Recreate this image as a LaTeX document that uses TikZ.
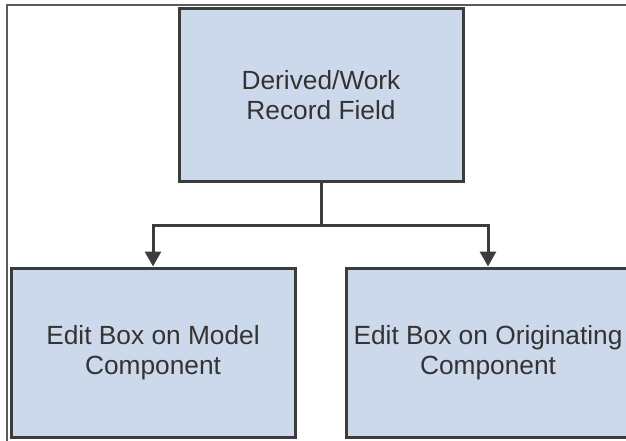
\documentclass[tikz,border=0pt]{standalone}
\usepackage{fontspec}
\setmainfont{Liberation Sans}
\usepackage{xcolor}
\definecolor{cFill}{HTML}{CCD9EB}
\definecolor{cLine}{HTML}{3C3C3C}
\definecolor{cText}{HTML}{333333}
\definecolor{cFrame}{HTML}{5A5A5A}
\usetikzlibrary{positioning,arrows.meta,calc}
\tikzset{
  node-box/.style={draw=cLine,line width=3pt,fill=cFill,text=cText,
    minimum width=284pt,inner sep=4pt,align=center,
    font=\fontsize{26.3}{30}\selectfont},
  arrow/.style={-{Triangle[length=15pt,width=16pt]},line width=3pt,draw=cLine},
  frame/.style={draw=cFrame,line width=2pt},
}

\begin{document}
\begin{tikzpicture}[x=1pt,y=-1pt]
  \useasboundingbox (0,0) rectangle (626,441);
  \clip (0,0) rectangle (626,441);
  \draw[frame] (7,460) -- (7,5) -- (640,5);
  \node[node-box,minimum height=172pt] (rec) at (321,95) {Derived/Work\\Record Field};
  \node[node-box,minimum height=169pt] (model) at (153,352.5) {Edit Box on Model\\Component};
  \node[node-box,minimum height=169pt] (orig) at (488,352.5) {Edit Box on Originating\\Component};
  \draw[arrow] (rec.south) -- ++(0,43) -| (model.north);
  \draw[arrow] (rec.south) -- ++(0,43) -| (orig.north);
\end{tikzpicture}
\end{document}
